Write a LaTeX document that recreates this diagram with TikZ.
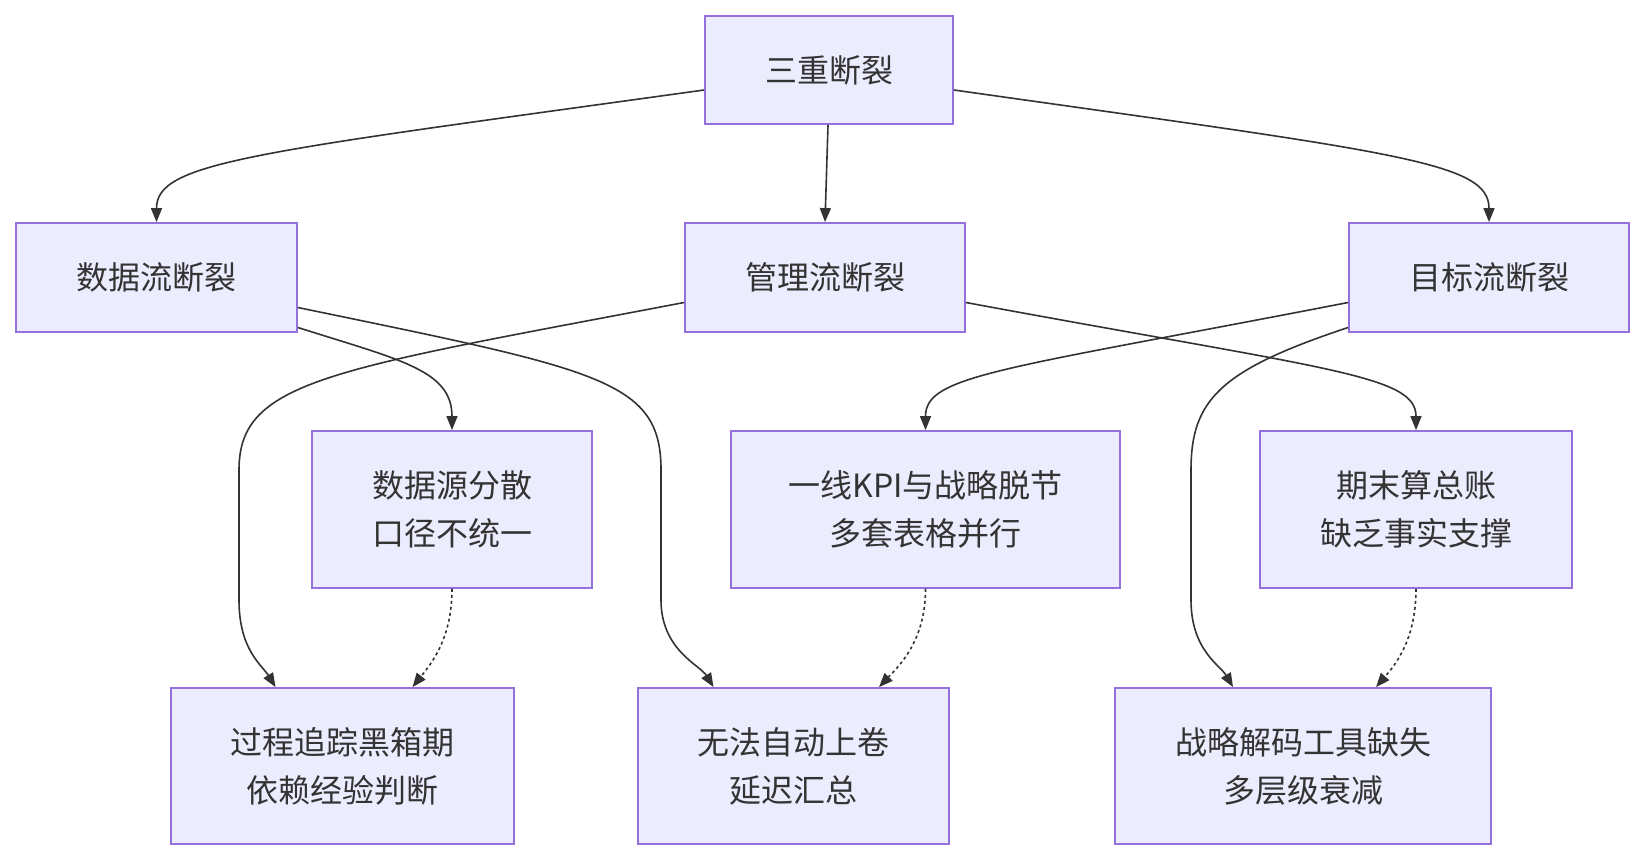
\documentclass[tikz,border=0pt]{standalone}
\usepackage{fontspec}
\setmainfont{Noto Sans CJK SC}
\usetikzlibrary{arrows.meta}
\definecolor{boxfill}{HTML}{ECECFF}
\definecolor{boxline}{HTML}{9370DB}
\definecolor{ink}{HTML}{333333}
\begin{document}
\begin{tikzpicture}[x=1pt,y=-1pt,
  box/.style={draw=boxline,fill=boxfill,line width=1.8pt,inner sep=0pt,align=center,text=ink,
    font=\fontsize{32pt}{48pt}\selectfont},
  link/.style={draw=ink,line width=1.6pt,-{Triangle[length=14pt,width=11pt]}},
  dotlink/.style={link,dash pattern=on 3pt off 3pt}]
\useasboundingbox (0,0) rectangle (1645,860);
\node[box,minimum width=248pt,minimum height=108pt] (top) at (829,70) {三重断裂};
\node[box,minimum width=281pt,minimum height=109pt] (A) at (156.5,277.5) {数据流断裂};
\node[box,minimum width=280pt,minimum height=109pt] (B) at (825,277.5) {管理流断裂};
\node[box,minimum width=280pt,minimum height=109pt] (C) at (1489,277.5) {目标流断裂};
\node[box,minimum width=280pt,minimum height=157pt] (D) at (452,509.5) {数据源分散\\口径不统一};
\node[box,minimum width=389pt,minimum height=157pt] (E) at (925.5,509.5) {一线KPI与战略脱节\\多套表格并行};
\node[box,minimum width=312pt,minimum height=157pt] (F) at (1416,509.5) {期末算总账\\缺乏事实支撑};
\node[box,minimum width=343pt,minimum height=156pt] (G) at (342.5,766) {过程追踪黑箱期\\依赖经验判断};
\node[box,minimum width=311pt,minimum height=156pt] (H) at (793.5,766) {无法自动上卷\\延迟汇总};
\node[box,minimum width=376pt,minimum height=156pt] (I) at (1303,766) {战略解码工具缺失\\多层级衰减};

\draw[link] ([yshift=-20pt]top.west) .. controls (250,153) and (156.5,162) .. (A.north);
\draw[link] ([xshift=-1pt]top.south) -- (B.north);
\draw[link] ([yshift=-20pt]top.east) .. controls (1400,153) and (1489,162) .. (C.north);

\draw[link] ([yshift=-50pt]A.east) .. controls (400,360) and (452,370) .. (D.north);
\draw[link] ([yshift=-30pt]A.east) .. controls (600,370) and (661,380) .. (661,470) -- (661,600) .. controls (661,650) and (700,665) .. ([xshift=-80pt]H.north);
\draw[link] ([yshift=-25pt]B.west) .. controls (330,370) and (239,380) .. (239,470) -- (239,600) .. controls (239,650) and (262,665) .. ([xshift=-67pt]G.north);
\draw[link] ([yshift=-25pt]B.east) .. controls (1330,370) and (1416,375) .. (F.north);
\draw[link] ([yshift=-25pt]C.west) .. controls (1000,370) and (925.5,375) .. (E.north);
\draw[link] ([yshift=-50pt]C.west) .. controls (1220,370) and (1191,400) .. (1191,470) -- (1191,600) .. controls (1191,650) and (1220,665) .. ([xshift=-70pt]I.north);

\draw[dotlink] (D.south) .. controls (452,640) and (430,665) .. ([xshift=70pt]G.north);
\draw[dotlink] (E.south) .. controls (925.5,640) and (900,665) .. ([xshift=85.5pt]H.north);
\draw[dotlink] (F.south) .. controls (1416,640) and (1395,665) .. ([xshift=73pt]I.north);
\end{tikzpicture}
\end{document}
